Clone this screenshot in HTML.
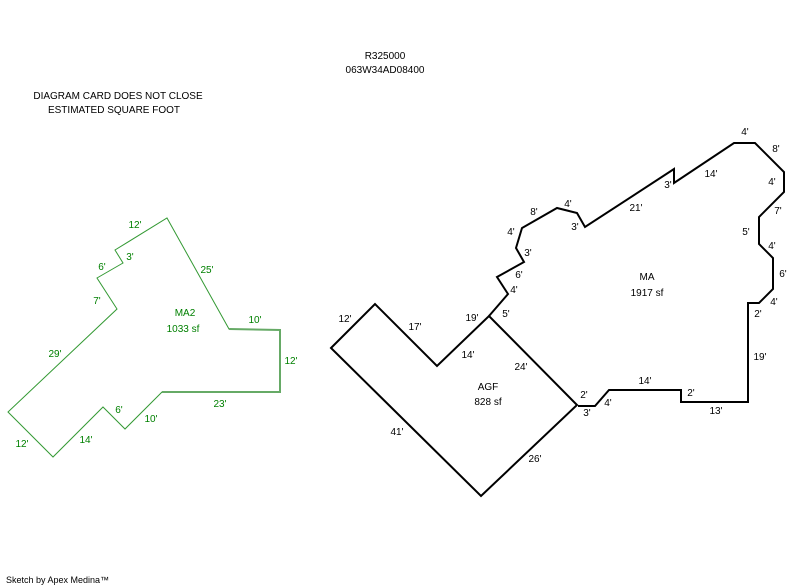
<!DOCTYPE html>
<html><head><style>
body{margin:0;background:#fff;}
svg{display:block;}
text{font-family:"Liberation Sans",Arial,sans-serif;font-size:10px;}
</style></head><body>
<svg width="800" height="587" viewBox="0 0 800 587">
<g fill="#000" text-anchor="middle">
<text x="385" y="59">R325000</text>
<text x="385" y="73">063W34AD08400</text>
<text x="118" y="99">DIAGRAM CARD DOES NOT CLOSE</text>
<text x="114" y="113">ESTIMATED SQUARE FOOT</text>
</g>
<text x="6" y="583" style="font-size:9px">Sketch by Apex Medina™</text>

<polygon points="167,218 229,329 280,330 280,392 162,392 125,429 103,407 53,457 8,412 117,309 97,278 123,263 115,250" fill="none" stroke="#339933" stroke-width="1"/>
<polyline points="229,329 280,330 280,392 162,392" fill="none" stroke="#66aa66" stroke-width="2"/>
<g fill="#008000" text-anchor="middle">
<text x="135" y="228">12'</text>
<text x="130" y="260">3'</text>
<text x="102" y="270">6'</text>
<text x="97" y="304">7'</text>
<text x="207" y="273">25'</text>
<text x="185" y="316">MA2</text>
<text x="183" y="332">1033 sf</text>
<text x="255" y="323">10'</text>
<text x="291" y="364">12'</text>
<text x="55" y="357">29'</text>
<text x="220" y="407">23'</text>
<text x="119" y="413">6'</text>
<text x="151" y="422">10'</text>
<text x="22" y="447">12'</text>
<text x="86" y="443">14'</text>
</g>

<polygon points="331,348 375,304 437,366 489,316 577,405 481,496" fill="none" stroke="#000" stroke-width="2"/>
<polyline points="489,316 508,294 497,277 524,262 516,248 522,228 557,208 577,213 585,227 674,169 674,183 734,143 755,143 784,172 784,192 759,217 759,244 773,258 773,289 759,303 748,303 748,402 681,402 681,390 609,390 595,406 578,406" fill="none" stroke="#000" stroke-width="2"/>
<g fill="#000" text-anchor="middle">
<text x="345" y="322">12'</text>
<text x="415" y="330">17'</text>
<text x="472" y="321">19'</text>
<text x="506" y="317">5'</text>
<text x="468" y="358">14'</text>
<text x="521" y="370">24'</text>
<text x="488" y="390">AGF</text>
<text x="488" y="405">828 sf</text>
<text x="397" y="435">41'</text>
<text x="535" y="462">26'</text>
<text x="584" y="398">2'</text>
<text x="587" y="416">3'</text>
<text x="608" y="406">4'</text>
<text x="645" y="384">14'</text>
<text x="691" y="396">2'</text>
<text x="716" y="414">13'</text>
<text x="760" y="360">19'</text>
<text x="758" y="317">2'</text>
<text x="774" y="305">4'</text>
<text x="783" y="277">6'</text>
<text x="772" y="249">4'</text>
<text x="746" y="235">5'</text>
<text x="778" y="214">7'</text>
<text x="772" y="185">4'</text>
<text x="776" y="152">8'</text>
<text x="745" y="135">4'</text>
<text x="711" y="177">14'</text>
<text x="668" y="188">3'</text>
<text x="636" y="211">21'</text>
<text x="575" y="230">3'</text>
<text x="568" y="207">4'</text>
<text x="534" y="215">8'</text>
<text x="511" y="235">4'</text>
<text x="528" y="256">3'</text>
<text x="519" y="278">6'</text>
<text x="514" y="293">4'</text>
<text x="647" y="280">MA</text>
<text x="647" y="296">1917 sf</text>
</g>
</svg>
</body></html>
